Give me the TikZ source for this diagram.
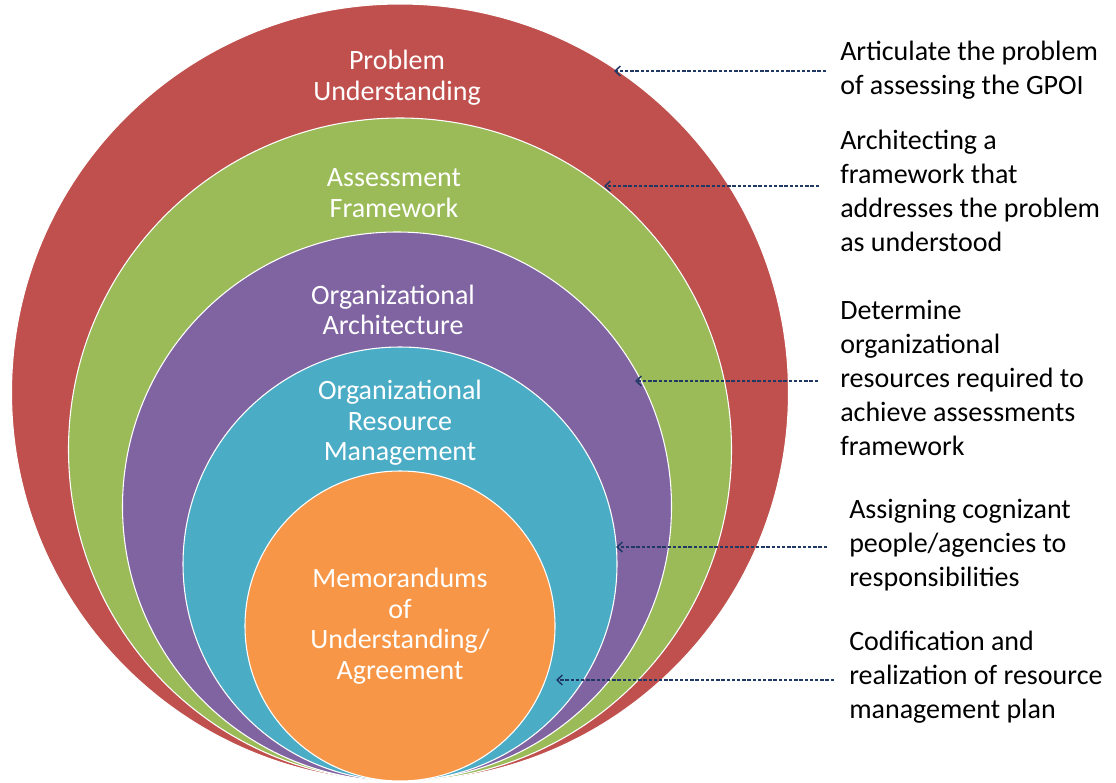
\documentclass[tikz,border=0pt]{standalone}
\usepackage{fontspec}
\setmainfont{Carlito}
\usetikzlibrary{arrows.meta}
\definecolor{cRed}{HTML}{C0504D}
\definecolor{cGreen}{HTML}{9BBB59}
\definecolor{cPurple}{HTML}{8064A2}
\definecolor{cBlue}{HTML}{4BACC6}
\definecolor{cOrange}{HTML}{F79646}
\definecolor{cNavy}{HTML}{1F3864}
\begin{document}
\begin{tikzpicture}[x=0.75pt,y=-0.75pt,
  ring/.style={circle, draw=white, line width=0.8pt, inner sep=0pt, outer sep=0pt},
  intext/.style={text=white, align=center, font=\fontsize{21pt}{22.9pt}\selectfont, inner sep=0pt},
  sidetext/.style={text=black, align=left, anchor=west, font=\fontsize{21pt}{25.5pt}\selectfont, inner sep=0pt},
  arr/.style={draw=cNavy, line width=1.1pt, dash pattern=on 2.6pt off 1.3pt, -{Straight Barb[length=4pt,width=7.5pt,line width=1.1pt]}}
]
\useasboundingbox (0,0) rectangle (1116,782);
\fill[white] (0,0) rectangle (1116,782);

% nested circles
\node[ring, fill=cRed, minimum size=582.75pt] (red) at (400,392.5) {};
\node[ring, fill=cGreen, minimum size=497.25pt] (green) at (400,449.5) {};
\node[ring, fill=cPurple, minimum size=411.75pt] (purple) at (397,506.5) {};
\node[ring, fill=cBlue, minimum size=325.5pt] (blue) at (400,564) {};
\node[ring, fill=cOrange, minimum size=232.5pt] (orange) at (400,626) {};

% inner labels
\node[intext] (l1) at (397,77.5) {Problem\\Understanding};
\node[intext] (l2) at (394,193) {Assessment\\Framework};
\node[intext] (l3) at (393,310) {Organizational\\Architecture};
\node[intext] (l4) at (400,422.7) {Organizational\\Resource\\Management};
\node[intext] (l5) at (400,626) {Memorandums\\of\\Understanding/\\Agreement};

% side labels
\node[sidetext] (t1) at (840,70) {Articulate the problem\\of assessing the GPOI};
\node[sidetext] (t2) at (840,191) {Architecting a\\framework that\\addresses the problem\\as understood};
\node[sidetext] (t3) at (840,377.5) {Determine\\organizational\\resources required to\\achieve assessments\\framework};
\node[sidetext] (t4) at (849,545) {Assigning cognizant\\people/agencies to\\responsibilities};
\node[sidetext] (t5) at (849,677.5) {Codification and\\realization of resource\\management plan};

% arrow end points
\coordinate (s1) at (826,71);  \coordinate (p1) at (614,71);
\coordinate (s2) at (819,186); \coordinate (p2) at (604,186);
\coordinate (s3) at (818,381); \coordinate (p3) at (635,381);
\coordinate (s4) at (827,547); \coordinate (p4) at (616,547);
\coordinate (s5) at (834,680); \coordinate (p5) at (556,680);

\draw[arr] (s1) -- (p1);
\draw[arr] (s2) -- (p2);
\draw[arr] (s3) -- (p3);
\draw[arr] (s4) -- (p4);
\draw[arr] (s5) -- (p5);
\end{tikzpicture}
\end{document}
